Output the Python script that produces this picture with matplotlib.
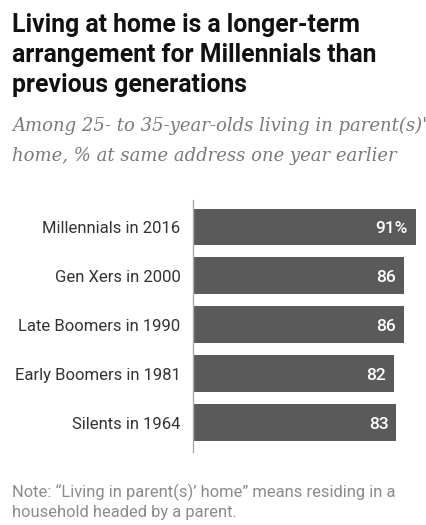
import matplotlib
matplotlib.use("Agg")
import matplotlib.pyplot as plt

# data
categories = ["Millennials in 2016", "Gen Xers in 2000", "Late Boomers in 1990",
              "Early Boomers in 1981", "Silents in 1964"]
values = [91, 86, 86, 82, 83]
value_labels = ["91%", "86", "86", "82", "83"]

title_lines = ["Living at home is a longer-term",
               "arrangement for Millennials than",
               "previous generations"]
subtitle_lines = ["Among 25- to 35-year-olds living in parent(s)'",
                  "home, % at same address one year earlier"]
note_lines = ["Note: \u201cLiving in parent(s)\u2019 home\u201d means residing in a",
              "household headed by a parent."]

W, H = 427, 525
fig = plt.figure(figsize=(W / 100, H / 100), dpi=100)
r = fig.canvas.get_renderer()


# shrink / grow font so first line gets the wanted pixel width
def fit(t, width_px):
    w = t.get_window_extent(r).width
    t.set_fontsize(t.get_fontsize() * width_px / w)
    return t.get_fontsize()


def block(lines, baselines, width_px, **kw):
    first = fig.text(12 / W, 1 - baselines[0] / H, lines[0], ha="left", va="baseline", **kw)
    fs = fit(first, width_px)
    for line, b in zip(lines[1:], baselines[1:]):
        fig.text(12 / W, 1 - b / H, line, ha="left", va="baseline", **dict(kw, fontsize=fs))


block(title_lines, [32, 62, 92], 348, fontsize=17, fontweight="bold",
      color="#111111", family="Roboto")
block(subtitle_lines, [131, 161], 413, fontsize=13, style="italic",
      color="#7a7a7a", family="DejaVu Serif")
block(note_lines, [497, 517], 380, fontsize=11, color="#8a8a8a", family="Roboto")

# bars
ax = fig.add_axes([193 / W, (H - 452) / H, 245 / W, 252 / H])
ax.barh(range(len(values)), values, height=0.75, color="#5a5a5a")
ax.set_xlim(0, 100)
ax.set_ylim(4.6, -0.55)
for i, (v, lab) in enumerate(zip(values, value_labels)):
    ax.text(v - 3.3, i + 0.03, lab, ha="right", va="center", color="white",
            fontsize=12.5, family="Roboto", fontweight="medium")
ax.set_yticks(range(len(categories)))
ax.set_yticklabels(categories, fontsize=12, color="#333333", family="Roboto")
ax.tick_params(axis="y", length=0, pad=9)
ax.set_xticks([])
for s in ["top", "right", "bottom"]:
    ax.spines[s].set_visible(False)
ax.spines["left"].set_color("#aaaaaa")
ax.spines["left"].set_linewidth(1)
ax.patch.set_alpha(0)

fig.savefig("out.png", dpi=100)
